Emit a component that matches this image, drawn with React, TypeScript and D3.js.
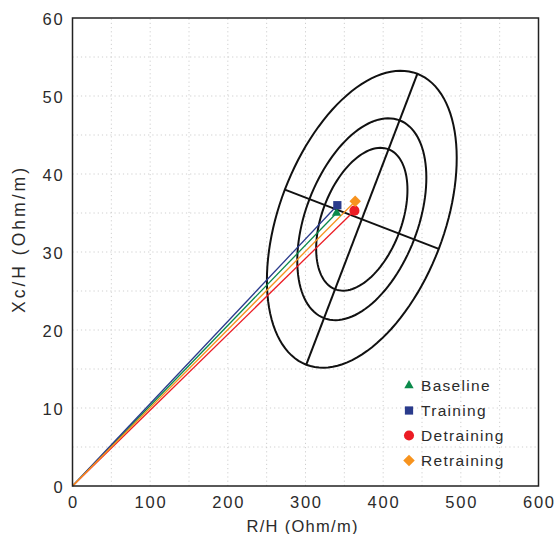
import React, { useRef, useEffect } from 'react';
import * as d3 from 'd3';

// --- Data ---
const seriesNames = ['Baseline', 'Training', 'Detraining', 'Retraining'];
const seriesR = [340, 341, 363, 364];
const seriesXc = [35.0, 36.0, 35.3, 36.5];
const seriesColors = ['#0b8a4b', '#2a3b8c', '#ec1c24', '#f7931e'];
const seriesSymbols = [d3.symbolTriangle, d3.symbolSquare, d3.symbolCircle, d3.symbolSquare];
const seriesSymbolSizes = [38, 68, 80, 66];
const seriesSymbolRotate = [0, 0, 0, 45];

// tolerance ellipses (50%, 75%, 95%)
const ellipseCenter = [372.5, 34.2];
const ellipseAxisA = [71.5, 18.65]; // major semi-axis (R, Xc)
const ellipseAxisB = [99.1, -3.8]; // minor semi-axis (R, Xc)
const ellipseScales = [0.481, 0.68, 1];

const xTicks = [0, 100, 200, 300, 400, 500, 600];
const yTicks = [0, 10, 20, 30, 40, 50, 60];
const xGrid = d3.range(50, 600, 50);
const yGrid = d3.range(5, 60, 5);

const App = () => {
  const svgRef = useRef<SVGSVGElement>(null);

  useEffect(() => {
    const width = 557;
    const height = 534;
    const margin = { top: 18, right: 18.5, bottom: 48, left: 72.5 };

    const svg = d3.select(svgRef.current).attr('width', width).attr('height', height).html('');

    const x = d3.scaleLinear().domain([0, 600]).range([margin.left, width - margin.right]);
    const y = d3.scaleLinear().domain([0, 60]).range([height - margin.bottom, margin.top]);

    const font = "'Liberation Sans', Arial, sans-serif";
    const ink = '#2b2b2b';

    // --- Grid ---
    const grid = svg.append('g').attr('stroke', '#cfcfcf').attr('stroke-width', 1).attr('stroke-dasharray', '1.2 3');
    grid.selectAll('.gx').data(xGrid).enter().append('line')
      .attr('x1', d => x(d)).attr('x2', d => x(d))
      .attr('y1', y(0)).attr('y2', y(60));
    grid.selectAll('.gy').data(yGrid).enter().append('line')
      .attr('x1', x(0)).attr('x2', x(600))
      .attr('y1', d => y(d)).attr('y2', d => y(d));

    // --- Ellipses ---
    const eg = svg.append('g').attr('fill', 'none').attr('stroke', '#111').attr('stroke-width', 2);
    const line = d3.line<[number, number]>().x(d => x(d[0])).y(d => y(d[1]));
    const ts = d3.range(0, 361, 3).map(a => (a * Math.PI) / 180);
    ellipseScales.forEach(s => {
      const pts: [number, number][] = ts.map(t => [
        ellipseCenter[0] + s * (ellipseAxisA[0] * Math.cos(t) + ellipseAxisB[0] * Math.sin(t)),
        ellipseCenter[1] + s * (ellipseAxisA[1] * Math.cos(t) + ellipseAxisB[1] * Math.sin(t)),
      ]);
      eg.append('path').attr('d', line(pts) + 'Z');
    });
    [ellipseAxisA, ellipseAxisB].forEach(v => {
      eg.append('path').attr('d', line([
        [ellipseCenter[0] - v[0], ellipseCenter[1] - v[1]],
        [ellipseCenter[0] + v[0], ellipseCenter[1] + v[1]],
      ]));
    });

    // --- Vectors from origin ---
    svg.append('g').selectAll('line').data(seriesNames).enter().append('line')
      .attr('x1', x(0)).attr('y1', y(0))
      .attr('x2', (d, i) => x(seriesR[i])).attr('y2', (d, i) => y(seriesXc[i]))
      .attr('stroke', (d, i) => seriesColors[i])
      .attr('stroke-width', 1.3);

    const symbolPath = (i: number) => d3.symbol().type(seriesSymbols[i]).size(seriesSymbolSizes[i])();

    // --- Points ---
    svg.append('g').selectAll('path').data(seriesNames).enter().append('path')
      .attr('d', (d, i) => symbolPath(i))
      .attr('transform', (d, i) => `translate(${x(seriesR[i])},${y(seriesXc[i])}) rotate(${seriesSymbolRotate[i]})`)
      .attr('fill', (d, i) => seriesColors[i]);

    // --- Frame ---
    svg.append('rect')
      .attr('x', x(0)).attr('y', y(60))
      .attr('width', x(600) - x(0)).attr('height', y(0) - y(60))
      .attr('fill', 'none').attr('stroke', '#222').attr('stroke-width', 1.5);

    // --- Tick labels ---
    svg.append('g').selectAll('text').data(xTicks).enter().append('text')
      .attr('x', d => x(d) + 0.9).attr('y', y(0) + 22)
      .attr('text-anchor', 'middle')
      .attr('font-family', font).attr('font-size', 16.5).attr('letter-spacing', 1.8).attr('fill', ink)
      .text(d => d);
    svg.append('g').selectAll('text').data(yTicks).enter().append('text')
      .attr('x', x(0) - 8).attr('y', d => y(d) + 6.5)
      .attr('text-anchor', 'end')
      .attr('font-family', font).attr('font-size', 16.5).attr('letter-spacing', 1.8).attr('fill', ink)
      .text(d => d);

    // --- Axis titles ---
    svg.append('text')
      .attr('x', 246.5).attr('y', 532)
      .attr('textLength', 111).attr('lengthAdjust', 'spacing')
      .attr('font-family', font).attr('font-size', 16.5).attr('fill', ink)
      .text('R/H (Ohm/m)');
    svg.append('text')
      .attr('transform', 'translate(25,313) rotate(-90)')
      .attr('textLength', 145).attr('lengthAdjust', 'spacing')
      .attr('font-family', font).attr('font-size', 17.5).attr('fill', ink)
      .text('Xc/H (Ohm/m)');

    // --- Legend ---
    const legend = svg.append('g').attr('transform', 'translate(409,385.5)');
    const rows = legend.selectAll('g').data(seriesNames).enter().append('g')
      .attr('transform', (d, i) => `translate(0,${i * 25})`);
    rows.append('path')
      .attr('d', (d, i) => symbolPath(i))
      .attr('transform', (d, i) => `rotate(${seriesSymbolRotate[i]})`)
      .attr('fill', (d, i) => seriesColors[i]);
    rows.append('text')
      .attr('x', 12).attr('y', 5.5)
      .attr('font-family', font).attr('font-size', 15.5).attr('letter-spacing', 1.3).attr('fill', ink)
      .text(d => d);
  }, []);

  return <svg ref={svgRef} style={{ position: 'absolute', left: 0, top: 0 }}></svg>;
};

export default App;
